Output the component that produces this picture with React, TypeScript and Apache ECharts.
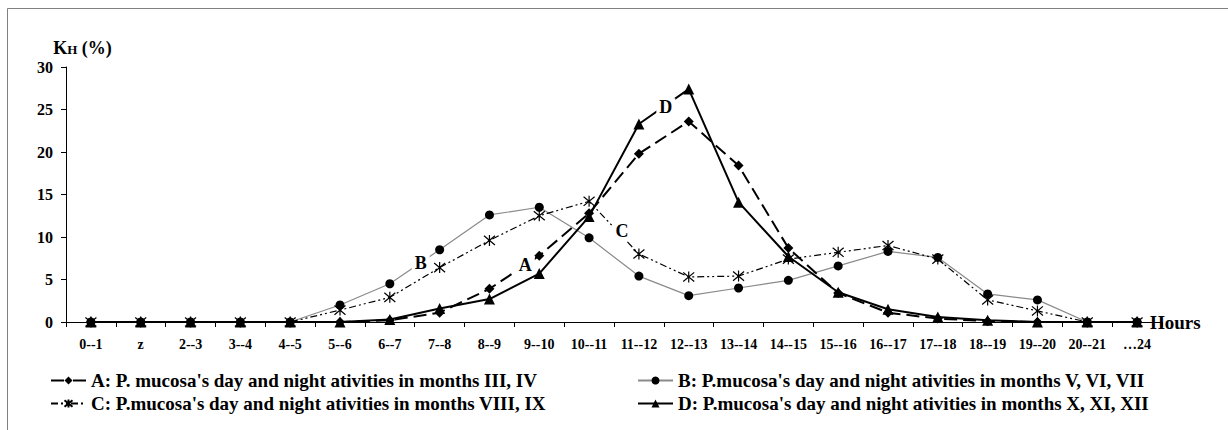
import React, { useEffect, useRef } from "react";
import * as echarts from "echarts";

const categories = ["0--1", "z", "2--3", "3--4", "4--5", "5--6", "6--7", "7--8", "8--9", "9--10", "10--11", "11--12", "12--13", "13--14", "14--15", "15--16", "16--17", "17--18", "18--19", "19--20", "20--21", "…24"];

const nameA = "A: P. mucosa's day and night ativities in months III, IV";
const nameB = "B: P.mucosa's day and night ativities in months V, VI, VII";
const nameC = "C: P.mucosa's day and night ativities in months VIII, IX";
const nameD = "D: P.mucosa's day and night ativities in months X, XI, XII";

const seriesA = [0, 0, 0, 0, 0, 0, 0.2, 1.1, 3.9, 7.8, 12.8, 19.8, 23.6, 18.4, 8.7, 3.4, 1.1, 0.4, 0.1, 0, 0, 0];
const seriesB = [0, 0, 0, 0, 0, 2.0, 4.5, 8.5, 12.6, 13.5, 9.9, 5.4, 3.1, 4.0, 4.9, 6.6, 8.3, 7.6, 3.3, 2.6, 0, 0];
const seriesC = [0, 0, 0, 0, 0, 1.4, 2.9, 6.4, 9.6, 12.5, 14.2, 8.0, 5.3, 5.4, 7.4, 8.2, 9.0, 7.4, 2.6, 1.3, 0, 0];
const seriesD = [0, 0, 0, 0, 0, 0, 0.3, 1.6, 2.7, 5.7, 12.4, 23.3, 27.4, 14.1, 7.7, 3.5, 1.5, 0.6, 0.2, 0, 0, 0];

const yTicks = { min: 0, max: 30, interval: 5 };

const FONT = '"Liberation Serif", "Times New Roman", serif';
const ASTERISK = "path://M0,0L10,10M10,0L0,10M5,-1L5,11";

// curve-letter annotations placed along a segment of each series
const curveLabels = [
  { text: "B", data: seriesB, i: 6, t: 0.62, dy: 0 },
  { text: "A", data: seriesA, i: 8, t: 0.72, dy: 0 },
  { text: "C", data: seriesC, i: 10, t: 0.66, dy: -5 },
  { text: "D", data: seriesD, i: 11, t: 0.54, dy: 2 },
];

export default function App() {
  const ref = useRef<HTMLDivElement>(null);
  useEffect(() => {
    if (!ref.current) return;
    const chart = echarts.init(ref.current, null, { renderer: "svg" });
    const bold = { fontFamily: FONT, fontWeight: "bold" as const, color: "#000" };
    const legendText = { ...bold, fontSize: 19, lineHeight: 19 };
    chart.setOption({
      animation: false,
      backgroundColor: "#fff",
      grid: { left: 66, right: 66, top: 67, bottom: 108 },
      xAxis: {
        type: "category",
        data: categories,
        boundaryGap: true,
        axisLine: { show: true, lineStyle: { color: "#000", width: 1 } },
        axisTick: { show: true, length: 5, lineStyle: { color: "#000" } },
        axisLabel: { ...bold, fontSize: 14, interval: 0, margin: 15 },
        name: "Hours",
        nameLocation: "end",
        nameGap: -20,
        nameTextStyle: { ...bold, fontSize: 19, backgroundColor: "#fff", padding: [0, 0, 0, 8], verticalAlign: "middle" },
      },
      yAxis: {
        type: "value",
        min: yTicks.min,
        max: yTicks.max,
        interval: yTicks.interval,
        splitLine: { show: false },
        axisLine: { show: true, lineStyle: { color: "#000", width: 1 } },
        axisTick: { show: true, length: 5, lineStyle: { color: "#000" } },
        axisLabel: { ...bold, fontSize: 16, margin: 13 },
        name: "{k|K}{h|H}{p| (%)}",
        nameLocation: "end",
        nameGap: 10,
        nameTextStyle: {
          padding: [0, 0, 0, 33],
          rich: {
            k: { ...bold, fontSize: 18, verticalAlign: "bottom" },
            h: { ...bold, fontSize: 13, verticalAlign: "bottom", padding: [0, 0, 1, 0] },
            p: { ...bold, fontSize: 18, verticalAlign: "bottom" },
          },
        },
      },
      legend: [
        {
          data: [
            { name: nameA, lineStyle: { type: [13, 9] } },
            { name: nameC },
          ],
          left: 45,
          top: 366,
          orient: "vertical",
          itemGap: 4,
          itemWidth: 35,
          itemHeight: 10,
          textStyle: legendText,
        },
        {
          data: [nameB, nameD],
          left: 632,
          top: 366,
          orient: "vertical",
          itemGap: 4,
          itemWidth: 35,
          itemHeight: 10,
          textStyle: legendText,
        },
      ],
      series: [
        {
          name: nameA,
          type: "line",
          data: seriesA,
          symbol: "diamond",
          symbolSize: 10,
          lineStyle: { color: "#000", width: 2, type: [13, 6] },
          itemStyle: { color: "#000" },
          z: 3,
        },
        {
          name: nameB,
          type: "line",
          data: seriesB,
          symbol: "circle",
          symbolSize: 9,
          lineStyle: { color: "#8a8a8a", width: 1.2, type: "solid" },
          itemStyle: { color: "#000" },
          z: 2,
        },
        {
          name: nameC,
          type: "line",
          data: seriesC,
          symbol: ASTERISK,
          symbolSize: 11,
          lineStyle: { color: "#000", width: 1.2, type: [7, 3, 2, 3, 2, 3] },
          itemStyle: { color: "#000", borderColor: "#000", borderWidth: 1.2 },
          z: 4,
        },
        {
          name: nameD,
          type: "line",
          data: seriesD,
          symbol: "triangle",
          symbolSize: 11,
          lineStyle: { color: "#000", width: 2, type: "solid" },
          itemStyle: { color: "#000" },
          z: 5,
        },
      ],
    });

    const graphics: any[] = [
      {
        type: "rect",
        silent: true,
        z: -10,
        shape: { x: 7.5, y: 8.5, width: 3000, height: 3000 },
        style: { fill: "none", stroke: "#808080", lineWidth: 1 },
      },
    ];
    curveLabels.forEach((l) => {
      const p1 = chart.convertToPixel({ xAxisIndex: 0, yAxisIndex: 0 }, [l.i, l.data[l.i]]) as number[];
      const p2 = chart.convertToPixel({ xAxisIndex: 0, yAxisIndex: 0 }, [l.i + 1, l.data[l.i + 1]]) as number[];
      const x = p1[0] + (p2[0] - p1[0]) * l.t;
      const y = p1[1] + (p2[1] - p1[1]) * l.t + l.dy;
      graphics.push({
        type: "text",
        z: 100,
        x,
        y,
        style: {
          text: l.text,
          font: `bold 18px ${FONT}`,
          fill: "#000",
          align: "center",
          verticalAlign: "middle",
          backgroundColor: "#fff",
          padding: [0, 3],
        },
      });
    });
    chart.setOption({ graphic: graphics });

    return () => chart.dispose();
  }, []);

  return <div ref={ref} style={{ position: "fixed", left: 0, top: 0, width: 1228, height: 430 }} />;
}
